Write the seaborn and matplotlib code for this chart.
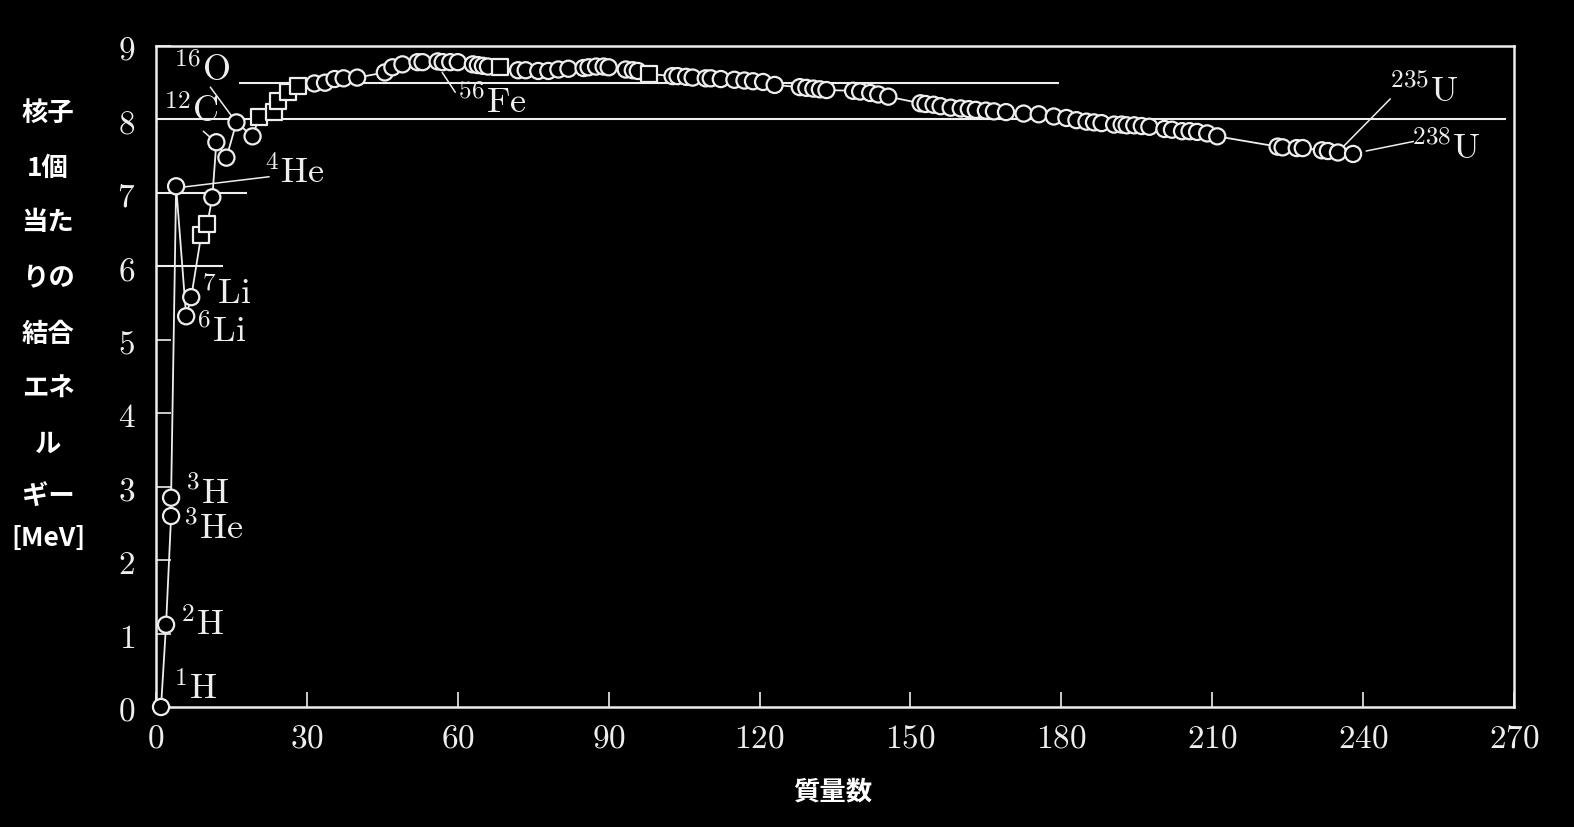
import matplotlib
matplotlib.use("Agg")
import matplotlib.pyplot as plt
import matplotlib.ticker as mticker
import seaborn as sns
import pandas as pd

# Data
mass_number = [1, 2, 3, 3, 4, 6, 7, 9, 10.2, 11.2, 12, 14, 16, 19.2,
               20.5, 23.5, 24.3, 26.3, 28.3,
               31.5, 33.6, 35.5, 37.3, 40, 45.5, 47, 49, 52, 53, 56, 57, 58.5, 60,
               63, 64, 65, 66, 68.4, 72, 73.5, 76, 78, 80, 82, 85, 86, 87.5, 89, 90,
               93.4, 94.8, 95.8, 98, 102.7, 103.7, 105.4, 106.7, 109.3, 110.3, 112.3,
               115, 117, 118.7, 120.7, 123, 128, 129.3, 130.7, 132, 133.3, 138.6, 140,
               142, 143.6, 145.6, 152, 153, 154.6, 156, 158, 160, 161.6, 163, 165,
               166.6, 169, 172.5, 175.5, 178.5, 181, 183, 185, 186.5, 188, 190.5, 192,
               193, 194.5, 196, 197.5, 200.5, 202, 204, 205.5, 207, 209, 211,
               223, 224, 226.8, 228, 231.8, 233, 235, 238]
binding_energy = [0.0, 1.12, 2.60, 2.85, 7.09, 5.32, 5.58, 6.43, 6.58, 6.94, 7.69, 7.48, 7.96, 7.77,
                  8.03, 8.10, 8.25, 8.37, 8.45,
                  8.49, 8.50, 8.55, 8.56, 8.57, 8.64, 8.71, 8.75, 8.78, 8.78, 8.79, 8.78, 8.78, 8.78,
                  8.75, 8.74, 8.73, 8.72, 8.71, 8.67, 8.67, 8.66, 8.66, 8.68, 8.69, 8.70, 8.71, 8.72, 8.72, 8.71,
                  8.68, 8.67, 8.66, 8.62, 8.59, 8.59, 8.58, 8.57, 8.56, 8.56, 8.55,
                  8.54, 8.53, 8.52, 8.51, 8.47, 8.44, 8.43, 8.42, 8.41, 8.40, 8.39, 8.38,
                  8.36, 8.34, 8.31, 8.22, 8.21, 8.20, 8.18, 8.16, 8.15, 8.14, 8.13, 8.12,
                  8.11, 8.10, 8.08, 8.07, 8.04, 8.02, 7.99, 7.97, 7.96, 7.95, 7.93, 7.93,
                  7.92, 7.92, 7.91, 7.90, 7.87, 7.86, 7.84, 7.84, 7.83, 7.81, 7.77,
                  7.63, 7.62, 7.61, 7.61, 7.58, 7.57, 7.55, 7.53]
square_mass = [9, 10.2, 20.5, 23.5, 24.3, 26.3, 28.3, 68.4, 98]
marker_kind = ["square" if a in square_mass else "circle" for a in mass_number]

df = pd.DataFrame({"A": mass_number, "B": binding_energy, "kind": marker_kind})

# nuclide labels: (text, x, y, leader start/end)
labels = [
    (r"${}^{1}\mathrm{H}$", 3.3, 0.26, None),
    (r"${}^{2}\mathrm{H}$", 4.8, 1.12, None),
    (r"${}^{3}\mathrm{He}$", 5.4, 2.45, None),
    (r"${}^{3}\mathrm{H}$", 5.8, 2.92, None),
    (r"${}^{6}\mathrm{Li}$", 8.0, 5.13, None),
    (r"${}^{7}\mathrm{Li}$", 9.0, 5.63, None),
    (r"${}^{4}\mathrm{He}$", 21.5, 7.28, ((5.5, 7.08), (22.5, 7.22))),
    (r"${}^{12}\mathrm{C}$", 1.4, 8.11, ((9.4, 7.84), (11.2, 7.73))),
    (r"${}^{16}\mathrm{O}$", 3.4, 8.68, ((10.8, 8.44), (15.0, 8.05))),
    (r"${}^{56}\mathrm{Fe}$", 59.8, 8.24, ((56.9, 8.64), (59.5, 8.37))),
    (r"${}^{235}\mathrm{U}$", 245.2, 8.39, ((245.4, 8.28), (236.2, 7.64))),
    (r"${}^{238}\mathrm{U}$", 249.6, 7.62, ((250.0, 7.70), (240.6, 7.57))),
]

ylabel_lines = ["核子", "1個", "当た", "りの", "結合", "エネ", "ル", "ギー", "[MeV]"]
ylabel_y = [113, 168, 223, 279, 334, 389, 444, 497, 538]

sns.set_style("dark", {"axes.facecolor": "black", "figure.facecolor": "black",
                       "axes.edgecolor": "#eeeeee", "text.color": "white",
                       "xtick.color": "#eeeeee", "ytick.color": "#eeeeee"})
plt.rcParams["mathtext.fontset"] = "cm"

fg = "#eeeeee"
fig = plt.figure(figsize=(15.74, 8.28), dpi=100, facecolor="black")
ax = fig.add_axes([156 / 1574, 1 - 708 / 828, (1514 - 156) / 1574, (708 - 47) / 828])
ax.set_facecolor("black")

# reference lines
ax.hlines(8.0, 0, 268.5, color=fg, lw=1.5, zorder=1)
ax.hlines(8.5, 16.6, 179.5, color=fg, lw=1.5, zorder=1)
ax.hlines(7.0, 0, 18, color=fg, lw=1.5, zorder=1)
ax.hlines(6.0, 0, 13.3, color=fg, lw=1.5, zorder=1)

sns.lineplot(data=df, x="A", y="B", sort=False, estimator=None, color=fg,
             linewidth=1.3, ax=ax, zorder=2)
sns.scatterplot(data=df, x="A", y="B", style="kind",
                markers={"circle": "o", "square": "s"}, s=135, ax=ax,
                legend=False, zorder=3, clip_on=False)
sc = ax.collections[-1]
sc.set_facecolor("black")
sc.set_edgecolor(fg)
sc.set_linewidth(1.6)

for text, x, y, leader in labels:
    ax.text(x, y, text, fontsize=26, color=fg, va="center", ha="left")
    if leader is not None:
        (x0, y0), (x1, y1) = leader
        ax.plot([x0, x1], [y0, y1], color=fg, lw=1.1, zorder=2)

ax.set_xlim(0, 270)
ax.set_ylim(0, 9)
ax.set_xticks(range(0, 271, 30))
ax.set_yticks(range(0, 10))
fmt = mticker.FuncFormatter(lambda v, p: r"$%d$" % v)
ax.xaxis.set_major_formatter(fmt)
ax.yaxis.set_major_formatter(fmt)
ax.tick_params(axis="both", direction="in", length=11, width=1.2, labelsize=24,
               colors=fg, bottom=True, left=True)
ax.tick_params(axis="x", pad=10)
ax.tick_params(axis="y", pad=15)
for sp in ax.spines.values():
    sp.set_color(fg)
    sp.set_linewidth(1.8)
ax.set_xlabel("")
ax.set_ylabel("")
ax.grid(False)

jp = ["Noto Sans CJK JP", "DejaVu Sans"]
for line, py in zip(ylabel_lines, ylabel_y):
    fig.text(48 / 1574, 1 - py / 828, line, family=jp, fontweight="bold",
             fontsize=19, color="white", ha="center", va="center")
fig.text(833 / 1574, 1 - 792 / 828, "質量数", family=jp, fontweight="bold",
         fontsize=19, color="white", ha="center", va="center")

fig.savefig("out.png", dpi=100, facecolor="black")
